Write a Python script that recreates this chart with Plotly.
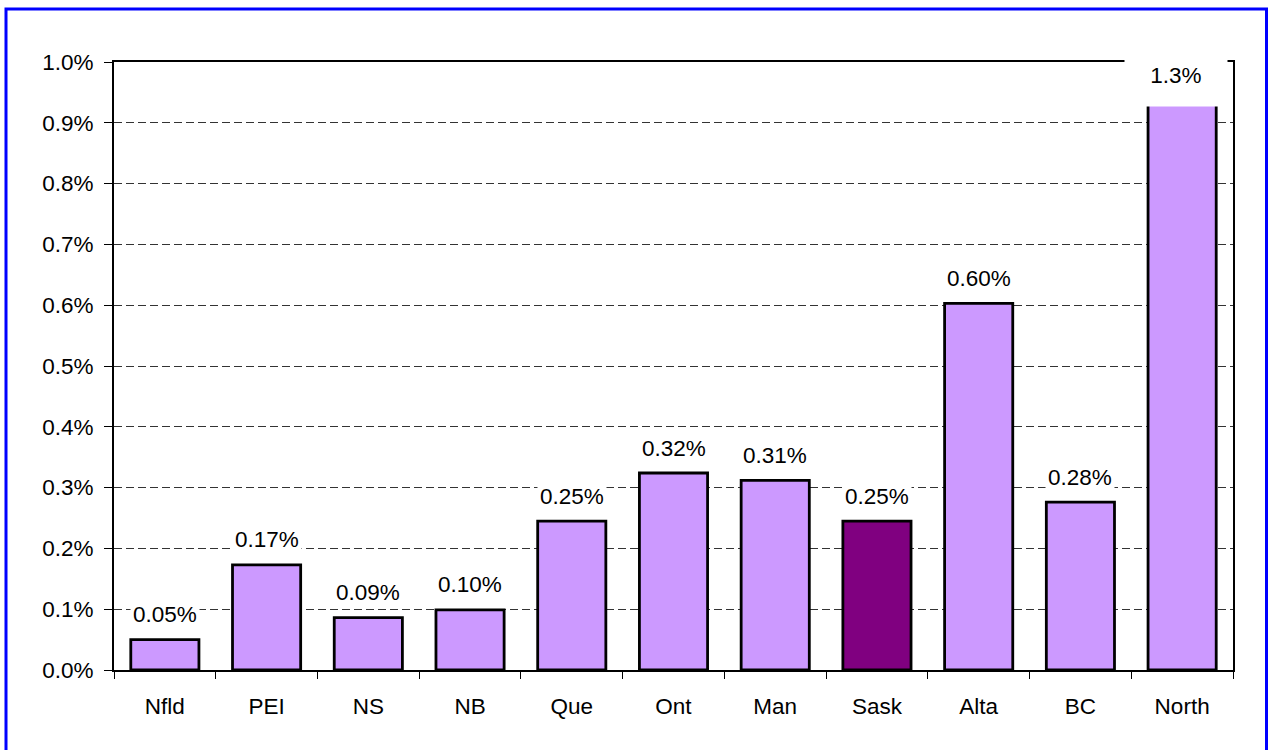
import plotly.graph_objects as go

categories = ["Nfld", "PEI", "NS", "NB", "Que", "Ont", "Man", "Sask", "Alta", "BC", "North"]
values = [0.0005, 0.00173, 0.00086, 0.00099, 0.00245, 0.00324, 0.00312, 0.00245, 0.00603, 0.00276, 0.013]
value_labels = ["0.05%", "0.17%", "0.09%", "0.10%", "0.25%", "0.32%", "0.31%", "0.25%", "0.60%", "0.28%", "1.3%"]
y_max = 0.01
highlight = "Sask"

W, H = 1270, 750
L, R, T, B = 114, 37, 62, 80
pw, ph = W - L - R, H - T - B
FONT = "Liberation Sans, Arial, sans-serif"
FS = 22.5


def px_x(p):
    return (p - L) / pw


def px_y(p):
    return (H - B - p) / ph


base_col = "#CC99FF"
hi_col = "#800080"
colors = [hi_col if c == highlight else base_col for c in categories]

fig = go.Figure()
fig.add_trace(go.Bar(
    x=categories, y=values,
    marker=dict(color=colors, line=dict(color="black", width=2.8)),
    cliponaxis=True,
    showlegend=False,
))

annotations = []
for c, v, lab in zip(categories, values, value_labels):
    if v <= y_max:
        annotations.append(dict(
            x=c, y=v, xref="x", yref="y", text=lab, showarrow=False,
            yanchor="middle", yshift=25, bgcolor="white",
            font=dict(family=FONT, size=FS, color="black"), borderpad=2,
        ))
    else:
        annotations.append(dict(
            x=c, y=y_max, xref="x", yref="y", text=lab, showarrow=False,
            yanchor="middle", yshift=-13, xshift=-6, bgcolor="white",
            width=98, height=58,
            font=dict(family=FONT, size=FS, color="black"), borderpad=2,
        ))

fig.update_layout(
    width=W, height=H,
    margin=dict(l=L, r=R, t=T, b=B),
    paper_bgcolor="white", plot_bgcolor="white",
    bargap=0.33,
    font=dict(family=FONT, size=FS, color="black"),
    annotations=annotations,
    shapes=[dict(
        type="rect", xref="paper", yref="paper",
        x0=px_x(6), x1=px_x(1266.5), y0=px_y(780), y1=px_y(9),
        line=dict(color="#0000FF", width=3), fillcolor="rgba(0,0,0,0)",
        layer="above",
    )],
)

fig.update_xaxes(
    showline=True, linecolor="black", linewidth=2, mirror=True,
    ticks="outside", ticklen=7, tickcolor="black", tickwidth=1,
    tickson="boundaries", showgrid=False,
    tickfont=dict(family=FONT, size=FS, color="black"),
    ticklabelstandoff=15,
)
fig.update_yaxes(
    range=[0, y_max], tickvals=[i / 1000 for i in range(0, 11)],
    tickformat=".1%",
    showline=True, linecolor="black", linewidth=2, mirror=True,
    ticks="outside", ticklen=8, tickcolor="black", tickwidth=1,
    showgrid=True, gridcolor="#333333", gridwidth=1, griddash="8px,4px",
    zeroline=False,
    tickfont=dict(family=FONT, size=FS, color="black"),
    ticklabelstandoff=6,
)

fig.write_html(
    "out.html",
    config={"displayModeBar": False},
    post_script="document.body.style.margin='0';document.body.style.overflow='hidden';",
)
